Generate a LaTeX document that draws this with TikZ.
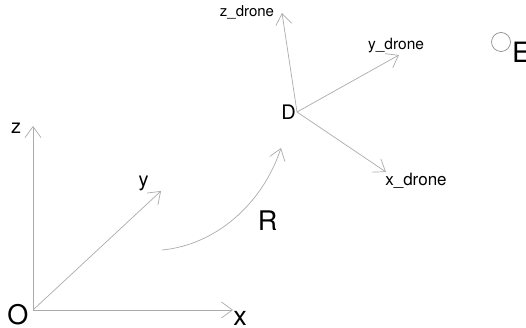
\documentclass[tikz,border=0pt]{standalone}
\usepackage{fontspec}
\setmainfont{TeX Gyre Heros}
\usetikzlibrary{arrows.meta}
\tikzset{
  axis/.style={draw=black!33, line width=0.7pt, -{Straight Barb[length=11pt,width=16pt]}},
  lbl/.style={inner sep=0pt, text=black, anchor=base},
  big/.style={lbl, font=\fontsize{27}{27}\selectfont},
  mid/.style={lbl, font=\fontsize{20}{20}\selectfont},
}
\begin{document}
\begin{tikzpicture}[x=1pt,y=-1pt]
\useasboundingbox (0,0) rectangle (526,328);
% world frame
\coordinate (O) at (33,310);
\coordinate (zt) at (33,126);
\coordinate (xt) at (233,310);
\coordinate (yt) at (161,191);
\draw[axis] (O) -- (zt);
\draw[axis] (O) -- (xt);
\draw[axis] (O) -- (yt);
\node[big] (Ol) at (18,324) {O};
\node[big] (xl) at (240,325.5) {x};
\node[mid] (zl) at (16,134) {z};
\node[mid] (yl) at (143.5,186.5) {y};
% rotation
\coordinate (Rs) at (162,250);
\coordinate (Rt) at (281,148);
\draw[axis] (Rs) .. controls (215,245) and (262,205) .. (Rt);
\node[big] (Rl) at (267.5,230) {R};
% drone frame
\coordinate (D) at (297,112);
\coordinate (dz) at (282,13);
\coordinate (dy) at (399,55);
\coordinate (dx) at (386,172);
\draw[axis] (D) -- (dz);
\draw[axis] (D) -- (dy);
\draw[axis] (D) -- (dx);
\node[mid] (Dl) at (288.5,120) {D};
\node[lbl, font=\fontsize{15}{15}\selectfont] (zdl) at (247,17) {z\_drone};
\node[lbl, font=\fontsize{15.5}{15.5}\selectfont] (ydl) at (396,50) {y\_drone};
\node[lbl, font=\fontsize{17}{17}\selectfont] (xdl) at (416,185.5) {x\_drone};
% point E
\node[draw=black!45, line width=0.7pt, circle, minimum size=19pt, inner sep=0pt] (Ec) at (501,42) {};
\node[inner sep=0pt, text=black, anchor=base west, font=\fontsize{28}{28}\selectfont] (El) at (512,63) {E};
\end{tikzpicture}
\end{document}
